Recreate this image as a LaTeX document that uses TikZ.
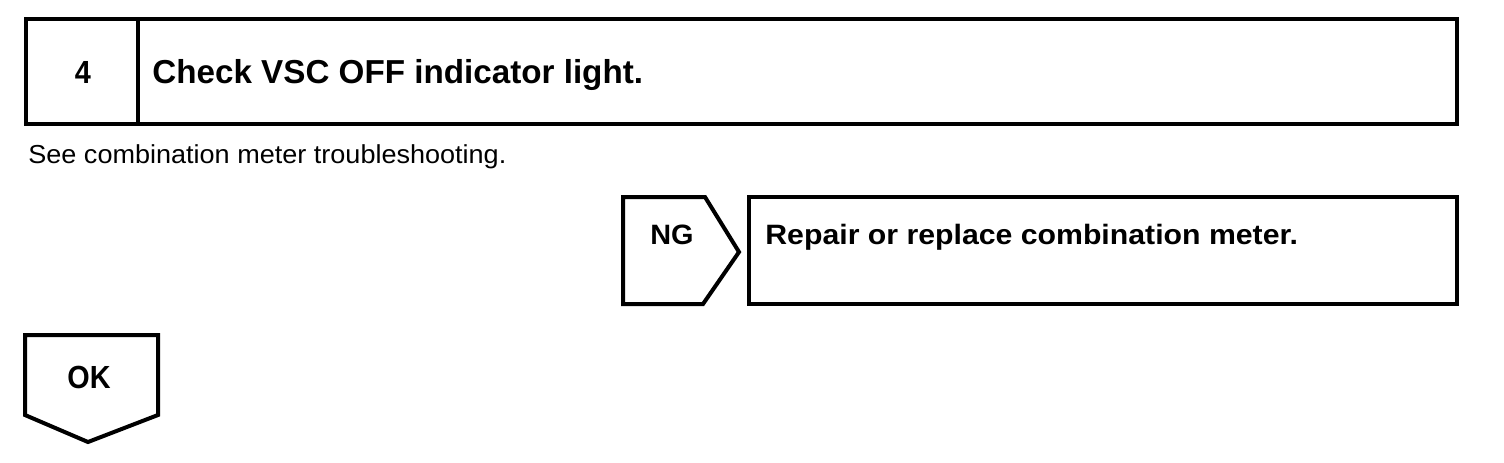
\documentclass[tikz,border=0pt]{standalone}
\usepackage{fontspec}
\setmainfont{Liberation Sans}
\newfontfamily\titlefont[FakeStretch=1.0]{Liberation Sans Bold}
\newfontfamily\repfont[FakeStretch=1.08]{Liberation Sans Bold}
\newfontfamily\ngfont[FakeStretch=1.03]{Liberation Sans Bold}
\newfontfamily\okfont[FakeStretch=0.9]{Liberation Sans Bold}
\newfontfamily\regfont[FakeStretch=1.04]{Liberation Sans}
\tikzset{
  frame/.style={draw=black, line width=2pt, line join=miter},
  title/.style={inner sep=0pt, anchor=base west, font=\titlefont\fontsize{16.6}{18}\selectfont},
  reptext/.style={inner sep=0pt, anchor=base west, font=\repfont\fontsize{14}{16}\selectfont},
  nglabel/.style={inner sep=0pt, anchor=base, font=\ngfont\fontsize{14}{16}\selectfont},
  biglabel/.style={inner sep=0pt, anchor=base, font=\okfont\fontsize{16}{18}\selectfont},
  plain/.style={inner sep=0pt, anchor=base west, font=\regfont\fontsize{13}{15}\selectfont}
}
\begin{document}
\begin{tikzpicture}[x=0.5pt,y=-0.5pt]
\useasboundingbox (0,0) rectangle (1504,462);
% header box
\draw[frame] (26,19) rectangle (1457,124);
\draw[frame] (138,19) -- (138,124);
\node[biglabel] (num) at (83,83) {4};
\node[title] (ttl) at (152,83) {Check VSC OFF indicator light.};
\node[plain] (see) at (28,163) {See combination meter troubleshooting.};
% NG arrow
\draw[frame] (623,197) -- (705,197) -- (739,252) -- (703,304) -- (623,304) -- cycle;
\node[nglabel] (ng) at (672,244) {NG};
\draw[frame] (749,197) rectangle (1457,304);
\node[reptext] (rep) at (765,244) {Repair or replace combination meter.};
% OK arrow
\draw[frame] (25,335) -- (158,335) -- (158,415) -- (88,442) -- (25,415) -- cycle;
\node[biglabel] (ok) at (89,388) {OK};
\end{tikzpicture}
\end{document}
